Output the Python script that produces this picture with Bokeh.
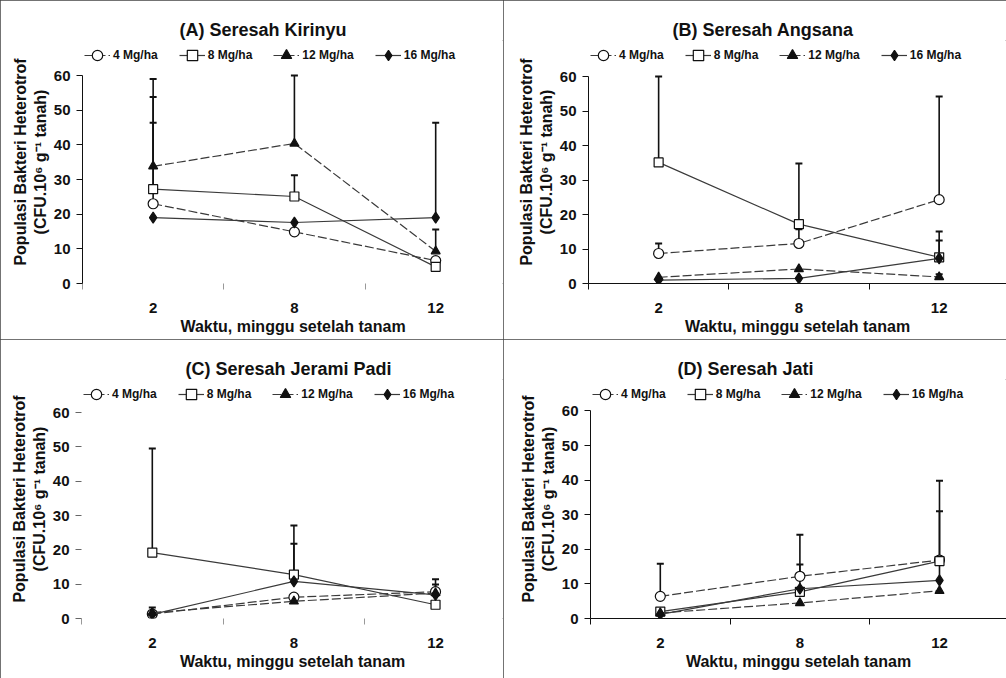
from bokeh.plotting import figure
from bokeh.models import (ColumnDataSource, Range1d, FixedTicker, Legend, LegendItem,
                          Whisker, TeeHead, LinearAxis)
from bokeh.layouts import column, row
from bokeh.embed import file_html
from bokeh.resources import INLINE

# ---------------- data ----------------
weeks = ["2", "8", "12"]
doses = ["4 Mg/ha", "8 Mg/ha", "12 Mg/ha", "16 Mg/ha"]
panel_titles = ["(A) Seresah Kirinyu", "(B) Seresah Angsana",
                "(C) Seresah Jerami Padi", "(D) Seresah Jati"]
y_ticks = [0, 10, 20, 30, 40, 50, 60]
x_title = "Waktu, minggu setelah tanam"
y_title_1 = "Populasi Bakteri Heterotrof"
y_title_2 = "(CFU.10\u2076 g\u207b\u00b9 tanah)"

# means (CFU.10^6 g^-1 tanah), order: 4, 8, 12, 16 Mg/ha
kirinyu_4 = [23.0, 14.9, 6.6]
kirinyu_8 = [27.2, 25.1, 4.8]
kirinyu_12 = [33.8, 40.4, 9.3]
kirinyu_16 = [19.0, 17.6, 19.0]

angsana_4 = [8.7, 11.6, 24.3]
angsana_8 = [35.1, 17.2, 7.6]
angsana_12 = [1.8, 4.2, 1.9]
angsana_16 = [1.0, 1.5, 7.3]

jerami_4 = [1.3, 6.2, 7.8]
jerami_8 = [19.2, 12.8, 4.0]
jerami_12 = [1.7, 5.0, 7.4]
jerami_16 = [1.2, 10.8, 6.9]

jati_4 = [6.4, 12.2, 16.9]
jati_8 = [2.0, 7.7, 16.6]
jati_12 = [1.6, 4.5, 8.0]
jati_16 = [1.2, 8.6, 11.0]

# upper error bars (standard deviation); 0 = no bar drawn
kirinyu_4_sd = [23.4, 0, 0]
kirinyu_8_sd = [26.6, 6.1, 0]
kirinyu_12_sd = [25.2, 19.6, 6.3]
kirinyu_16_sd = [0, 0, 27.4]

angsana_4_sd = [2.9, 4.1, 29.9]
angsana_8_sd = [24.9, 17.6, 4.9]
angsana_12_sd = [0, 0, 0.8]
angsana_16_sd = [0, 0, 7.8]

jerami_4_sd = [0, 0, 0]
jerami_8_sd = [30.3, 14.3, 0]
jerami_12_sd = [0, 0, 2.5]
jerami_16_sd = [2.0, 11.0, 4.5]

jati_4_sd = [9.4, 12.0, 0]
jati_8_sd = [0, 0, 23.2]
jati_12_sd = [0, 0, 0]
jati_16_sd = [0, 7.0, 20.0]

panels = [
    ([kirinyu_4, kirinyu_8, kirinyu_12, kirinyu_16],
     [kirinyu_4_sd, kirinyu_8_sd, kirinyu_12_sd, kirinyu_16_sd]),
    ([angsana_4, angsana_8, angsana_12, angsana_16],
     [angsana_4_sd, angsana_8_sd, angsana_12_sd, angsana_16_sd]),
    ([jerami_4, jerami_8, jerami_12, jerami_16],
     [jerami_4_sd, jerami_8_sd, jerami_12_sd, jerami_16_sd]),
    ([jati_4, jati_8, jati_12, jati_16],
     [jati_4_sd, jati_8_sd, jati_12_sd, jati_16_sd]),
]

# ---------------- styling ----------------
FONT = "Liberation Sans"
INK = "#111111"
LINE = "#3a3a3a"
marker_styles = [
    dict(marker="circle", size=10, fill_color="white", line_color=INK),
    dict(marker="square", size=9, fill_color="white", line_color=INK),
    dict(marker="triangle", size=9, fill_color=INK, line_color=INK),
    dict(marker="diamond", size=11, fill_color=INK, line_color=INK),
]
line_dashes = ["9 3", "solid", "9 3", "solid"]

W, H = 503, 339
TOP = 40          # pixels above the frame (title area)
# per-panel layout: frame left, title offset, hide x line, hide y line,
# pixel row of the value 60, bottom border
layout_cfg = [
    dict(left=82, toff=97, hide_x=True, hide_y=False, y60=75, bottom=56),
    dict(left=85, toff=84, hide_x=False, hide_y=False, y60=76, bottom=56),
    dict(left=81, toff=104, hide_x=True, hide_y=True, y60=73, bottom=60),
    dict(left=87, toff=87, hide_x=False, hide_y=False, y60=72, bottom=56),
]
x_pos = [0.5, 1.5, 2.5]


def build(idx):
    means, sds = panels[idx]
    c = layout_cfg[idx]
    # extend the y range above 60 so the legend sits above the data area
    px_per_unit = (H - c["bottom"] - c["y60"]) / 60.0
    y_top = 60 + (c["y60"] - TOP) / px_per_unit
    p = figure(width=W, height=H, output_backend="svg", toolbar_location=None,
               x_range=Range1d(0, 2.98), y_range=Range1d(0, y_top),
               min_border_left=c["left"], min_border_right=0,
               min_border_top=TOP, min_border_bottom=c["bottom"])
    p.outline_line_color = None
    p.grid.visible = False
    p.background_fill_color = "white"
    p.border_fill_color = "white"

    items = []
    for k in range(4):
        src = ColumnDataSource(dict(x=x_pos, y=means[k]))
        lr = p.line("x", "y", source=src, line_color=LINE, line_width=1.2,
                    line_dash=line_dashes[k])
        ex = [x for x, s in zip(x_pos, sds[k]) if s > 0]
        ey = [m for m, s in zip(means[k], sds[k]) if s > 0]
        eu = [min(m + s, 60) for m, s in zip(means[k], sds[k]) if s > 0]
        if ex:
            esrc = ColumnDataSource(dict(x=ex, lo=ey, hi=eu))
            p.add_layout(Whisker(source=esrc, base="x", lower="lo", upper="hi",
                                 dimension="height", line_color=INK, line_width=1.6,
                                 upper_head=TeeHead(size=7, line_color=INK, line_width=2),
                                 lower_head=None))
        sr = p.scatter("x", "y", source=src, line_width=1.2, **marker_styles[k])
        items.append(LegendItem(label=doses[k], renderers=[lr, sr]))

    p.title.text = panel_titles[idx]
    p.title.align = "left"
    p.title.offset = c["toff"]
    p.title.text_font = FONT
    p.title.text_font_style = "bold"
    p.title.text_font_size = "18px"
    p.title.text_color = INK
    p.title.standoff = 2

    legend = Legend(items=items, orientation="horizontal", location="top_left",
                    label_text_font=FONT, label_text_font_style="bold",
                    label_text_font_size="12px", label_text_color=INK,
                    glyph_width=26, glyph_height=26, label_height=26,
                    label_standoff=3, spacing=21, padding=0, margin=2,
                    border_line_color=None, background_fill_alpha=0)
    p.add_layout(legend)

    # x axis: labels at category centres, ticks at category boundaries
    xa = p.xaxis[0]
    xa.ticker = FixedTicker(ticks=x_pos, minor_ticks=[0, 1, 2, 3])
    xa.major_label_overrides = {0.5: weeks[0], 1.5: weeks[1], 2.5: weeks[2]}
    xa.major_tick_out = 0
    xa.major_tick_in = 0
    xa.minor_tick_out = 6
    xa.minor_tick_in = 0
    xa.major_label_standoff = 13
    xa.major_label_text_font = FONT
    xa.major_label_text_font_style = "bold"
    xa.major_label_text_font_size = "15px"
    xa.major_label_text_color = INK
    xa.axis_label = x_title
    xa.axis_label_text_font = FONT
    xa.axis_label_text_font_style = "bold"
    xa.axis_label_text_font_size = "16px"
    xa.axis_label_text_color = INK
    xa.axis_label_standoff = 2
    xa.axis_line_color = None if c["hide_x"] else INK
    xa.minor_tick_line_color = "#999999" if c["hide_x"] else INK

    ya = p.yaxis[0]
    ya.ticker = FixedTicker(ticks=y_ticks, minor_ticks=[])
    ya.bounds = (0, 60)
    ya.major_tick_out = 6
    ya.major_tick_in = 0
    ya.major_label_standoff = 6
    ya.major_label_text_font = FONT
    ya.major_label_text_font_style = "bold"
    ya.major_label_text_font_size = "15px"
    ya.major_label_text_color = INK
    ya.axis_line_color = None if c["hide_y"] else INK
    ya.major_tick_line_color = "#666666" if c["hide_y"] else INK
    # second line of the y title (nearest the axis)
    ya.axis_label = y_title_2
    ya.axis_label_text_font = FONT
    ya.axis_label_text_font_style = "bold"
    ya.axis_label_text_font_size = "16px"
    ya.axis_label_text_color = INK
    ya.axis_label_standoff = 2

    # first line of the y title on an outer, tick-less axis
    outer = LinearAxis(ticker=FixedTicker(ticks=[], minor_ticks=[]),
                       axis_label=y_title_1, axis_label_text_font=FONT,
                       axis_label_text_font_style="bold",
                       axis_label_text_font_size="16px",
                       axis_label_text_color=INK, axis_label_standoff=0,
                       axis_line_color=None, major_tick_line_color=None,
                       minor_tick_line_color=None,
                       major_label_text_font_size="0px")
    p.add_layout(outer, "left")

    p.styles = {"outline": "1px solid #444444", "outline-offset": "-1px"}
    return p


figs = [build(i) for i in range(4)]
lay = column(row(figs[0], figs[1]), row(figs[2], figs[3]))

open("out.html", "w").write(file_html(lay, INLINE))
